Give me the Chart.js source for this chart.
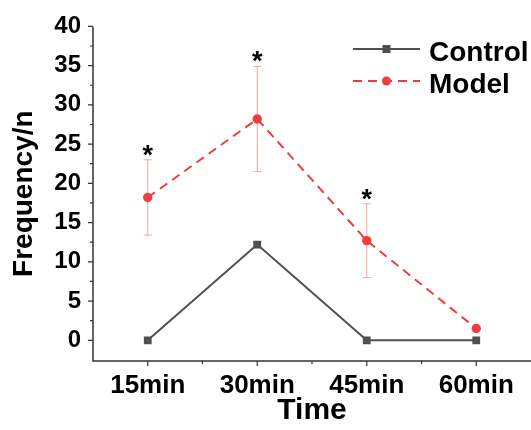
<!DOCTYPE html>
<html>
<head>
<meta charset="utf-8">
<script src="https://cdn.jsdelivr.net/npm/chart.js@4/dist/chart.umd.min.js"></script>
<style>
  body { margin: 0; background: #fff; }
  canvas { display: block; }
</style>
</head>
<body>
<canvas id="chart" width="531" height="430"></canvas>
<script>
// Data
const categories = ['15min', '30min', '45min', '60min'];
const controlMean = [0, 12.2, 0, 0];
const controlErr = [0, 0.3, 0, 0];
const modelMean = [18.2, 28.2, 12.7, 1.5];
const modelErr = [4.8, 6.7, 4.7, 0];
const marks = ['*', '*', '*', ''];
const yTicks = [0, 5, 10, 15, 20, 25, 30, 35, 40];

const FONT = 'Arial, "Liberation Sans", sans-serif';

// error bars, drawn under the lines
const errorBars = {
    id: 'errorBars',
    beforeDatasetsDraw(chart) {
        const { ctx, scales: { x, y } } = chart;
        chart.data.datasets.forEach(ds => {
            if (!ds.errors) return;
            ctx.save();
            ctx.strokeStyle = ds.errorColor;
            ctx.lineWidth = 1;
            ds.data.forEach((v, i) => {
                const e = ds.errors[i];
                if (!e) return;
                const px = x.getPixelForValue(i);
                const top = y.getPixelForValue(v + e);
                const bot = y.getPixelForValue(v - e);
                ctx.beginPath();
                ctx.moveTo(px, top); ctx.lineTo(px, bot);
                ctx.moveTo(px - 4, top); ctx.lineTo(px + 4, top);
                ctx.moveTo(px - 4, bot); ctx.lineTo(px + 4, bot);
                ctx.stroke();
            });
            ctx.restore();
        });
    }
};

// axis lines, tick marks, asterisks and legend
const decorations = {
    id: 'decorations',
    afterDraw(chart) {
        const { ctx, chartArea: a, scales: { x, y } } = chart;
        ctx.save();
        ctx.strokeStyle = '#333';
        ctx.lineWidth = 1.5;
        ctx.beginPath();
        ctx.moveTo(a.left, a.top); ctx.lineTo(a.left, a.bottom);
        ctx.lineTo(a.right, a.bottom);
        ctx.stroke();

        ctx.lineWidth = 1.2;
        ctx.beginPath();
        yTicks.forEach((v, i) => {
            const py = y.getPixelForValue(v);
            ctx.moveTo(a.left - 5, py); ctx.lineTo(a.left, py);
            if (i < yTicks.length - 1) {
                const my = y.getPixelForValue(v + 2.5);
                ctx.moveTo(a.left - 3, my); ctx.lineTo(a.left, my);
            }
        });
        categories.forEach((c, i) => {
            const px = x.getPixelForValue(i);
            ctx.moveTo(px, a.bottom); ctx.lineTo(px, a.bottom + 5);
            if (i < categories.length - 1) {
                const mx = (px + x.getPixelForValue(i + 1)) / 2;
                ctx.moveTo(mx, a.bottom); ctx.lineTo(mx, a.bottom + 3);
            }
        });
        ctx.stroke();

        // significance marks above the model error bars
        ctx.fillStyle = '#000';
        ctx.font = 'bold 27px ' + FONT;
        ctx.textAlign = 'center';
        ctx.textBaseline = 'alphabetic';
        marks.forEach((m, i) => {
            if (!m) return;
            const py = y.getPixelForValue(modelMean[i] + modelErr[i]);
            ctx.fillText(m, x.getPixelForValue(i), py - 11 + 15);
        });

        // legend
        const lx = 353, lw = 67;
        chart.data.datasets.forEach((ds, k) => {
            const ly = 49 + k * 32;
            ctx.strokeStyle = ds.borderColor;
            ctx.lineWidth = 2;
            ctx.setLineDash(ds.borderDash || []);
            ctx.beginPath();
            ctx.moveTo(lx, ly); ctx.lineTo(lx + lw, ly);
            ctx.stroke();
            ctx.setLineDash([]);
            ctx.fillStyle = ds.pointBackgroundColor;
            if (ds.pointStyle === 'rect') {
                ctx.fillRect(lx + lw / 2 - 4, ly - 4, 8, 8);
            } else {
                ctx.beginPath();
                ctx.arc(lx + lw / 2, ly, 4.5, 0, Math.PI * 2);
                ctx.fill();
            }
            ctx.fillStyle = '#000';
            ctx.font = 'bold 28px ' + FONT;
            ctx.textAlign = 'left';
            ctx.textBaseline = 'middle';
            ctx.fillText(ds.label, 429, ly + 4);
        });
        ctx.restore();
    }
};

new Chart(document.getElementById('chart').getContext('2d'), {
    type: 'line',
    data: {
        labels: categories,
        datasets: [
            {
                label: 'Control',
                data: controlMean,
                errors: controlErr,
                errorColor: '#888',
                borderColor: '#505050',
                borderWidth: 2,
                pointStyle: 'rect',
                pointRadius: 5.5,
                pointBackgroundColor: '#505050',
                pointBorderWidth: 0,
                tension: 0
            },
            {
                label: 'Model',
                data: modelMean,
                errors: modelErr,
                errorColor: '#f7a3a3',
                borderColor: '#f03c3c',
                borderWidth: 2,
                borderDash: [9, 6],
                pointStyle: 'circle',
                pointRadius: 4.7,
                pointBackgroundColor: '#f03c3c',
                pointBorderWidth: 0,
                tension: 0
            }
        ]
    },
    options: {
        responsive: false,
        animation: false,
        layout: { autoPadding: false, padding: { top: 23, right: -3, left: 0, bottom: 0 } },
        plugins: {
            legend: { display: false },
            tooltip: { enabled: false }
        },
        scales: {
            x: {
                type: 'category',
                offset: true,
                grid: { display: false, drawTicks: false },
                border: { display: false },
                ticks: {
                    color: '#000',
                    font: { family: FONT, size: 26, weight: 'bold' },
                    padding: 9,
                    maxRotation: 0,
                    autoSkip: false
                },
                title: {
                    display: true,
                    text: 'Time',
                    color: '#000',
                    font: { family: FONT, size: 30, weight: 'bold' },
                    padding: { top: 0, bottom: 1 }
                },
                afterFit: s => { s.height = 69; }
            },
            y: {
                min: -2.64,
                max: 40,
                grid: { display: false, drawTicks: false },
                border: { display: false },
                afterBuildTicks: s => { s.ticks = yTicks.map(v => ({ value: v })); },
                ticks: {
                    color: '#000',
                    font: { family: FONT, size: 24, weight: 'bold' },
                    padding: 12
                },
                title: {
                    display: true,
                    text: 'Frequency/n',
                    color: '#000',
                    font: { family: FONT, size: 28, weight: 'bold' },
                    padding: { top: 7, bottom: 0 }
                },
                afterFit: s => { s.width = 93; }
            }
        }
    },
    plugins: [errorBars, decorations]
});
</script>
</body>
</html>
